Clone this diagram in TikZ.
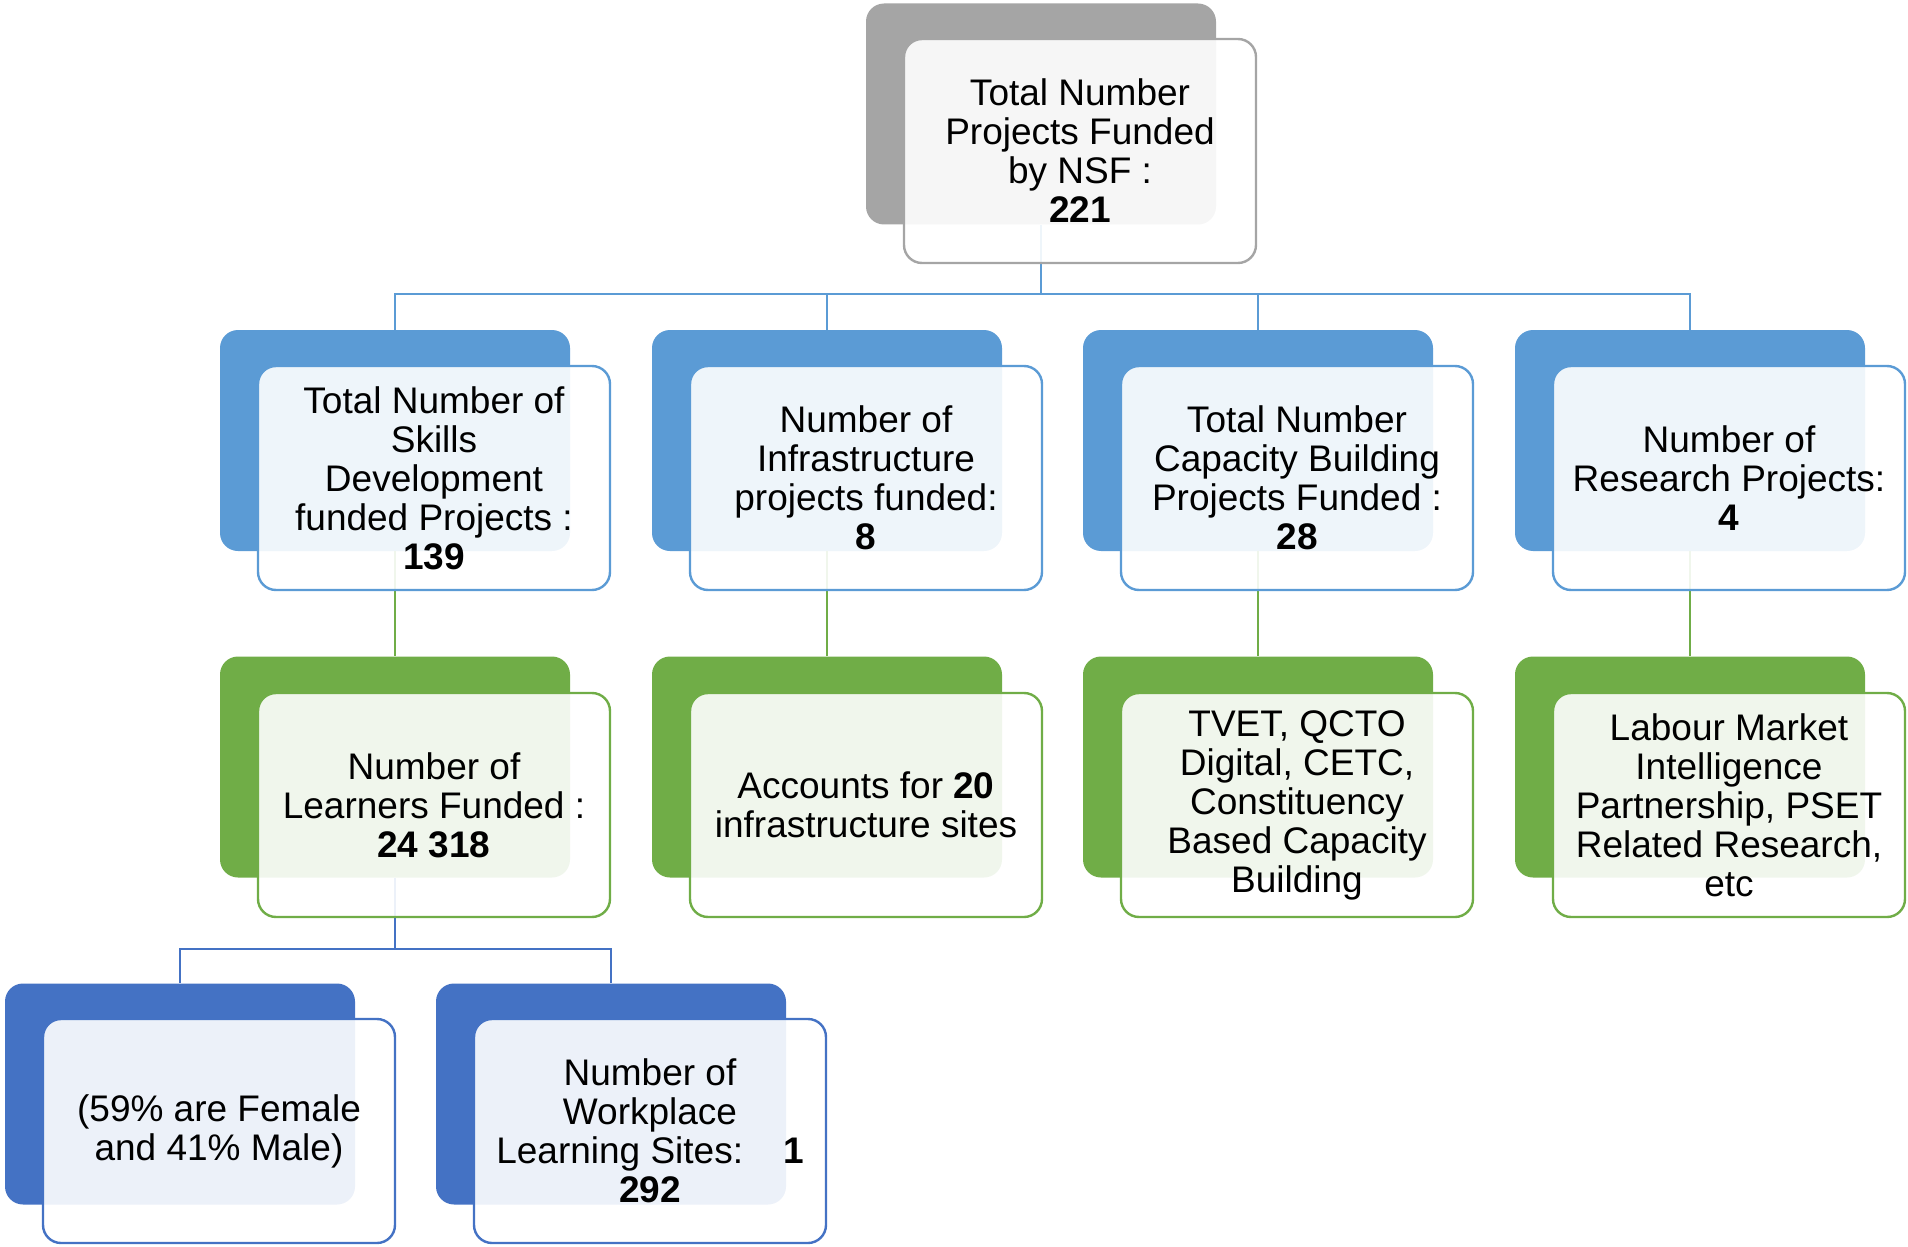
\documentclass[tikz,border=0pt]{standalone}
\usepackage{fontspec}
\setmainfont{Liberation Sans}

\definecolor{cardgray}{HTML}{A5A5A5}
\definecolor{cardblue}{HTML}{5B9BD5}
\definecolor{cardgreen}{HTML}{70AD47}
\definecolor{carddark}{HTML}{4472C4}

\begin{document}
\begin{tikzpicture}[x=0.5pt, y=-0.5pt,
  back/.style={rectangle, rounded corners=9pt, inner sep=0pt,
    minimum width=175pt, minimum height=110.5pt},
  front/.style={draw, rectangle, rounded corners=9pt, fill=white, fill opacity=0.9,
    text opacity=1, line width=1.2pt, minimum width=176pt, minimum height=112pt,
    align=center, inner sep=2pt, font=\fontsize{18.5}{19.5}\selectfont},
  link/.style={line width=1pt},
]
\useasboundingbox (0,0) rectangle (1908,1247);

%── Kartu belakang ────────────────────────────────────────────────────────────

\node[back, fill=cardgray] (nsf) at (1041, 114) {};

\node[back, fill=cardblue] (skills)   at (395,  440.5) {};
\node[back, fill=cardblue] (infra)    at (827,  440.5) {};
\node[back, fill=cardblue] (capacity) at (1258, 440.5) {};
\node[back, fill=cardblue] (research) at (1690, 440.5) {};

\node[back, fill=cardgreen] (learners)  at (395,  767) {};
\node[back, fill=cardgreen] (sites)     at (827,  767) {};
\node[back, fill=cardgreen] (tvet)      at (1258, 767) {};
\node[back, fill=cardgreen] (labour)    at (1690, 767) {};

\node[back, fill=carddark] (gender)    at (180, 1094) {};
\node[back, fill=carddark] (workplace) at (611, 1094) {};

%── Penghubung ────────────────────────────────────────────────────────────────

\coordinate (bus1) at (1041, 294);
\draw[link, cardblue] (nsf.south) -- (bus1) -| (skills.north);
\draw[link, cardblue] (bus1) -| (infra.north);
\draw[link, cardblue] (bus1) -| (capacity.north);
\draw[link, cardblue] (bus1) -| (research.north);

\draw[link, cardgreen] (skills)   -- (learners);
\draw[link, cardgreen] (infra)    -- (sites);
\draw[link, cardgreen] (capacity) -- (tvet);
\draw[link, cardgreen] (research) -- (labour);

\coordinate (bus2) at (395, 949);
\draw[link, carddark] (learners.south) -- (bus2) -| (gender.north);
\draw[link, carddark] (bus2) -| (workplace.north);

%── Kartu depan (teks) ────────────────────────────────────────────────────────

\node[front, draw=cardgray] (nsf-t) at (1080, 151)
  {Total Number\\Projects Funded\\by NSF :\\\textbf{221}};

\node[front, draw=cardblue] (skills-t) at (434, 478)
  {Total Number of\\Skills\\Development\\funded Projects :\\\textbf{139}};
\node[front, draw=cardblue] (infra-t) at (866, 478)
  {Number of\\Infrastructure\\projects funded:\\\textbf{8}};
\node[front, draw=cardblue] (capacity-t) at (1297, 478)
  {Total Number\\Capacity Building\\Projects Funded :\\\textbf{28}};
\node[front, draw=cardblue] (research-t) at (1729, 478)
  {Number of\\Research Projects:\\\textbf{4}};

\node[front, draw=cardgreen] (learners-t) at (434, 805)
  {Number of\\Learners Funded :\\\textbf{24 318}};
\node[front, draw=cardgreen] (sites-t) at (866, 805)
  {Accounts for \textbf{20}\\infrastructure sites};
\node[front, draw=cardgreen] (tvet-t) at (1297, 805)
  {TVET, QCTO\\Digital, CETC,\\Constituency\\Based Capacity\\Building};
\node[front, draw=cardgreen] (labour-t) at (1729, 805)
  {Labour Market\\Intelligence\\Partnership, PSET\\Related Research,\\etc};

\node[front, draw=carddark] (gender-t) at (219, 1131)
  {(59\% are Female\\and 41\% Male)};
\node[front, draw=carddark] (workplace-t) at (650, 1131)
  {Number of\\Workplace\\Learning Sites:\hspace{20pt}\textbf{1}\\\textbf{292}};

\end{tikzpicture}
\end{document}
